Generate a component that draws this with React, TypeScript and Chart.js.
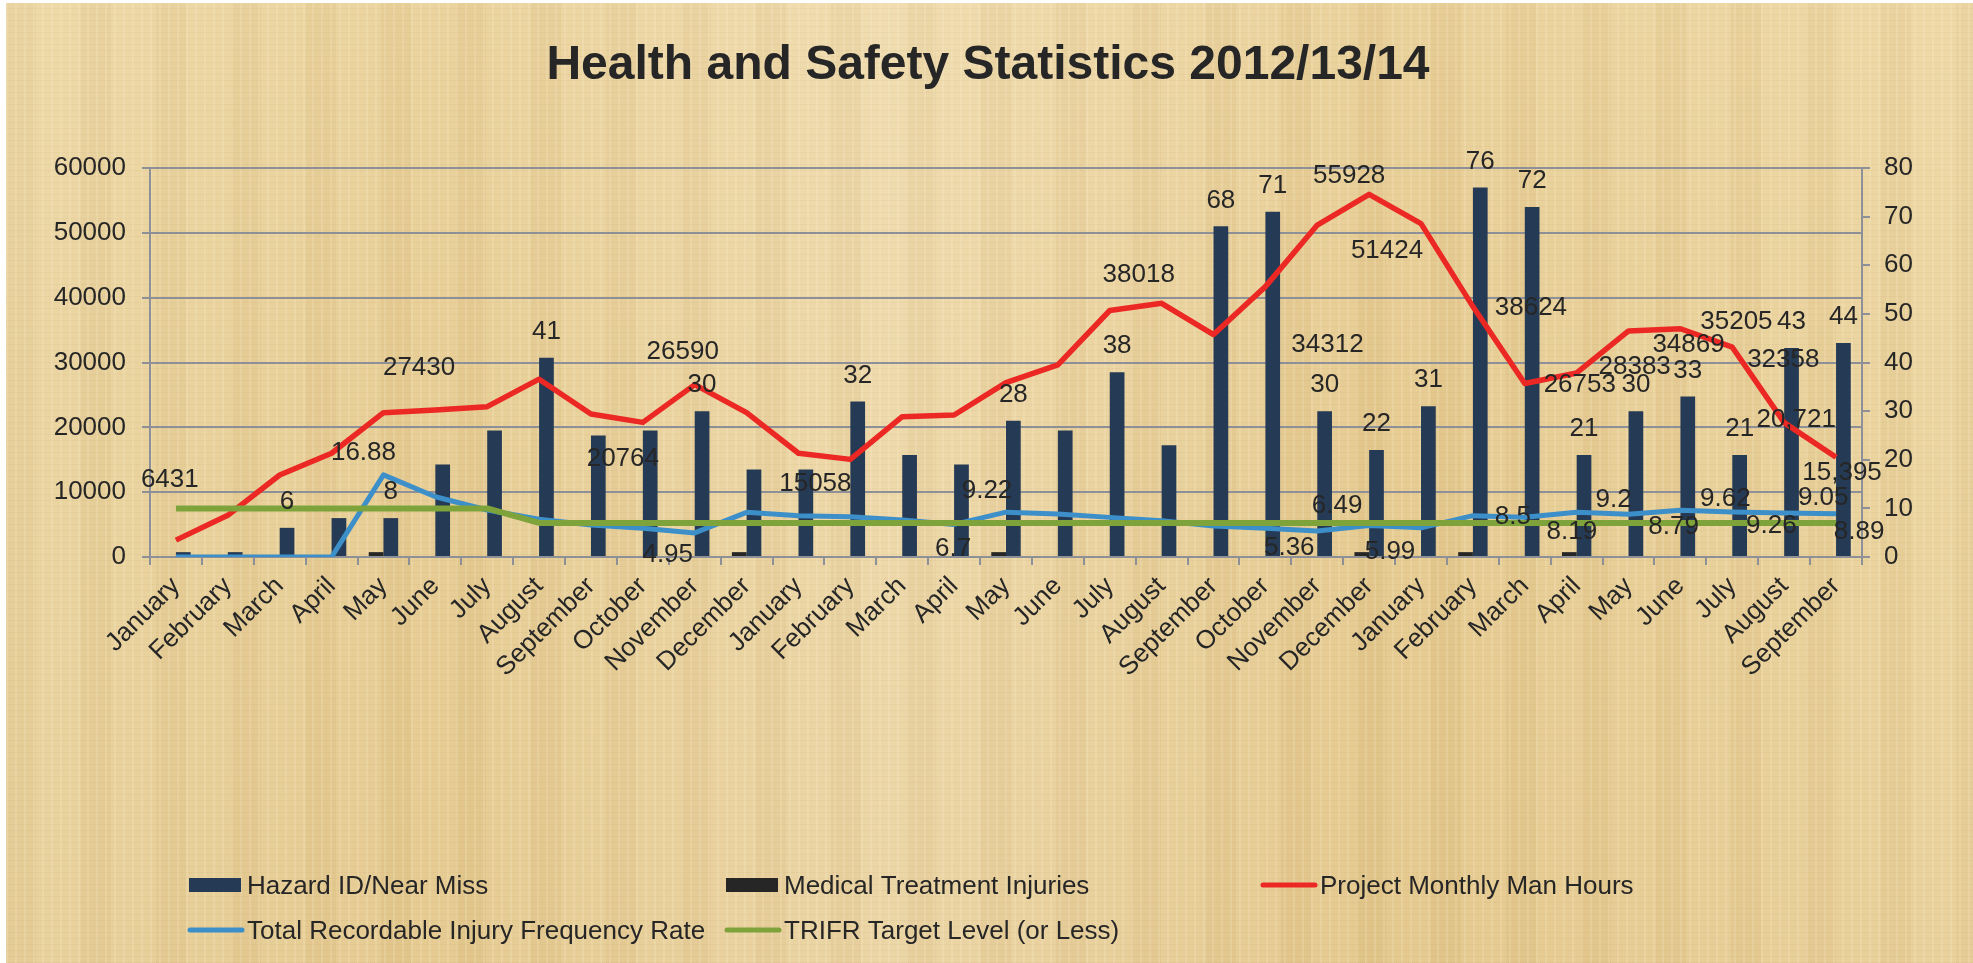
import React, { useEffect, useRef } from "react";
import { Chart, registerables } from "chart.js";

Chart.register(...registerables);

const FONT = "'Liberation Sans', Arial, Helvetica, sans-serif";
const TEXT = "#262626";

const months = [
  "January", "February", "March", "April", "May", "June", "July", "August", "September", "October", "November", "December",
  "January", "February", "March", "April", "May", "June", "July", "August", "September", "October", "November", "December",
  "January", "February", "March", "April", "May", "June", "July", "August", "September",
];

const hazardNearMiss = [1, 1, 6, 8, 8, 19, 26, 41, 25, 26, 30, 18, 18, 32, 21, 19, 28, 26, 38, 23, 68, 71, 30, 22, 31, 76, 72, 21, 30, 33, 21, 43, 44];

const medicalTreatment = [null, null, null, null, 1, null, null, null, null, null, null, 1, null, null, null, null, 1, null, null, null, null, null, null, 1, null, 1, null, 1, null, null, null, null, null];

const manHours = [2600, 6431, 12650, 16000, 22260, 22680, 23190, 27430, 22060, 20764, 26590, 22260, 16000, 15058, 21650, 21900, 26890, 29620, 38018, 39130, 34312, 41700, 51200, 55928, 51424, 38624, 26753, 28383, 34869, 35205, 32358, 20721, 15395];

const trifr = [0, 0, 0, 0, 16.88, 12.4, 9.67, 7.75, 6.58, 5.9, 4.95, 9.19, 8.5, 8.3, 7.6, 6.7, 9.22, 8.84, 8.15, 7.47, 6.38, 5.9, 5.36, 6.49, 5.99, 8.5, 8.19, 9.2, 8.79, 9.62, 9.26, 9.05, 8.89];

const trifrTarget = [10, 10, 10, 10, 10, 10, 10, 7, 7, 7, 7, 7, 7, 7, 7, 7, 7, 7, 7, 7, 7, 7, 7, 7, 7, 7, 7, 7, 7, 7, 7, 7, 7];

const hazardLabels = [null, null, "6", null, "8", null, null, "41", null, null, "30", null, null, "32", null, null, "28", null, "38", null, "68", "71", "30", "22", "31", "76", "72", "21", "30", "33", "21", "43", "44"];

const manHoursLabels = [null, "6431", null, null, null, null, null, "27430", null, "20764", "26590", null, null, "15058", null, null, null, null, "38018", null, "34312", null, null, "55928", "51424", "38624", "26753", "28383", "34869", "35205", "32358", "20,721", "15,395"];

const trifrLabels = [null, null, null, null, "16.88", null, null, null, null, null, "4.95", null, null, null, null, "6.7", "9.22", null, null, null, null, null, "5.36", "6.49", "5.99", "8.5", "8.19", "9.2", "8.79", "9.62", "9.26", "9.05", "8.89"];

// label placement shifts (style only), aligned with the label arrays
const manHoursLabelShift: ([number, number] | null)[] = [null, [-58, -35], null, null, null, null, null, [-120, -11], null, [-20, 36], [-12, -33], null, null, [-35, 24], null, null, null, null, [29, -36], null, [114, 10], null, null, [-20, -19], [-34, 27], [58, 1], [55, 1], [58, -6], [60, 14], [56, -7], [51, 13], [12, -3], [6, 16]];

const trifrLabelShift: ([number, number] | null)[] = [null, null, null, null, [-20, -22], null, null, null, null, null, [-27, 22], null, null, null, null, [-1, 24], [-19, -21], null, null, null, null, null, [-28, 17], [-32, -20], [-31, 24], [40, 1], [47, 15], [37, -12], [45, 13], [45, -11], [39, 14], [39, -15], [23, 18]];

const COLORS = {
  hazard: "#253a54",
  medical: "#262626",
  red: "#ec2824",
  blue: "#3d8fc9",
  green: "#7ea33b",
  grid: "#8d9097",
};

const legendItems = [
  { text: "Hazard ID/Near Miss", kind: "box", color: COLORS.hazard, col: 0, row: 0 },
  { text: "Medical Treatment Injuries", kind: "box", color: COLORS.medical, col: 1, row: 0 },
  { text: "Project Monthly Man Hours", kind: "line", color: COLORS.red, col: 2, row: 0 },
  { text: "Total Recordable Injury Frequency Rate", kind: "line", color: COLORS.blue, col: 0, row: 1 },
  { text: "TRIFR Target Level (or Less)", kind: "line", color: COLORS.green, col: 1, row: 1 },
];

const W = 1973;
const H = 963;
const PLOT_LEFT = 150;
const PLOT_RIGHT = 1862;
const PLOT_TOP = 168;
const PLOT_BOTTOM = 557;

const overlayPlugin = {
  id: "overlay",
  afterDatasetsDraw(chart: any) {
    const ctx = chart.ctx;
    ctx.save();
    ctx.fillStyle = TEXT;
    ctx.font = `26px ${FONT}`;
    ctx.textAlign = "center";
    ctx.textBaseline = "middle";
    const hz = chart.getDatasetMeta(0);
    hazardLabels.forEach((t, i) => {
      if (!t) return;
      const el = hz.data[i];
      ctx.fillText(t, el.x, el.y - 26);
    });
    const mh = chart.getDatasetMeta(2);
    manHoursLabels.forEach((t, i) => {
      if (!t) return;
      const el = mh.data[i];
      const s = manHoursLabelShift[i] || [0, -20];
      ctx.fillText(t, el.x + s[0], el.y + s[1]);
    });
    const tr = chart.getDatasetMeta(3);
    trifrLabels.forEach((t, i) => {
      if (!t) return;
      const el = tr.data[i];
      const s = trifrLabelShift[i] || [0, -20];
      ctx.fillText(t, el.x + s[0], el.y + s[1]);
    });
    ctx.restore();
  },
  afterDraw(chart: any) {
    const ctx = chart.ctx;
    ctx.save();
    // title
    ctx.fillStyle = TEXT;
    ctx.font = `bold 48px ${FONT}`;
    ctx.textAlign = "center";
    ctx.textBaseline = "alphabetic";
    ctx.fillText("Health and Safety Statistics 2012/13/14", 988, 79);
    // legend
    const colX = [189, 726, 1262];
    const rowY = [885, 930];
    ctx.font = `26px ${FONT}`;
    ctx.textAlign = "left";
    legendItems.forEach((it) => {
      const x = colX[it.col];
      const y = rowY[it.row];
      if (it.kind === "box") {
        ctx.fillStyle = it.color;
        ctx.fillRect(x, y - 7, 52, 14);
      } else {
        ctx.strokeStyle = it.color;
        ctx.lineWidth = 5;
        ctx.lineCap = "round";
        ctx.beginPath();
        ctx.moveTo(x + 1, y);
        ctx.lineTo(x + 53, y);
        ctx.stroke();
      }
      ctx.fillStyle = TEXT;
      ctx.textBaseline = "alphabetic";
      ctx.fillText(it.text, x + 58, y + 8.5);
    });
    ctx.restore();
  },
};

export default function App() {
  const ref = useRef<HTMLCanvasElement>(null);

  useEffect(() => {
    if (!ref.current) return;
    const chart = new Chart(ref.current, {
      type: "bar",
      data: {
        labels: months,
        datasets: [
          {
            type: "bar",
            label: "Hazard ID/Near Miss",
            data: hazardNearMiss,
            backgroundColor: COLORS.hazard,
            yAxisID: "yR",
            order: 5,
            categoryPercentage: 0.567,
            barPercentage: 1,
          },
          {
            type: "bar",
            label: "Medical Treatment Injuries",
            data: medicalTreatment as any,
            backgroundColor: COLORS.medical,
            yAxisID: "yR",
            order: 4,
            categoryPercentage: 0.567,
            barPercentage: 1,
          },
          {
            type: "line",
            label: "Project Monthly Man Hours",
            data: manHours,
            borderColor: COLORS.red,
            backgroundColor: COLORS.red,
            borderWidth: 5.5,
            pointRadius: 0,
            tension: 0,
            yAxisID: "yL",
            order: 3,
            borderJoinStyle: "round",
          },
          {
            type: "line",
            label: "Total Recordable Injury Frequency Rate",
            data: trifr,
            borderColor: COLORS.blue,
            backgroundColor: COLORS.blue,
            borderWidth: 5,
            pointRadius: 0,
            tension: 0,
            yAxisID: "yR",
            order: 2,
            borderJoinStyle: "round",
          },
          {
            type: "line",
            label: "TRIFR Target Level (or Less)",
            data: trifrTarget,
            borderColor: COLORS.green,
            backgroundColor: COLORS.green,
            borderWidth: 6,
            pointRadius: 0,
            tension: 0,
            yAxisID: "yR",
            order: 1,
            borderJoinStyle: "round",
          },
        ],
      },
      options: {
        responsive: false,
        animation: false,
        devicePixelRatio: 1,
        layout: { padding: { top: PLOT_TOP, left: 0, right: 0, bottom: 0 } },
        plugins: {
          legend: { display: false },
          title: { display: false },
          tooltip: { enabled: false },
        },
        scales: {
          x: {
            offset: true,
            grid: {
              display: true,
              offset: true,
              drawOnChartArea: false,
              drawTicks: true,
              tickLength: 8,
              color: COLORS.grid,
              lineWidth: 2,
            },
            border: { display: true, color: COLORS.grid, width: 2 },
            ticks: {
              autoSkip: false,
              maxRotation: 45,
              minRotation: 45,
              padding: 6,
              color: TEXT,
              font: { family: FONT, size: 26 },
            },
            afterFit(scale: any) {
              scale.height = H - PLOT_BOTTOM;
            },
          },
          yL: {
            type: "linear",
            position: "left",
            min: 0,
            max: 60000,
            ticks: {
              stepSize: 10000,
              padding: 16,
              color: TEXT,
              font: { family: FONT, size: 26 },
              callback: (v: any) => String(v),
            },
            grid: {
              color: COLORS.grid,
              lineWidth: 2,
              drawTicks: true,
              tickLength: 8,
            },
            border: { display: true, color: COLORS.grid, width: 2 },
            afterFit(scale: any) {
              scale.width = PLOT_LEFT;
            },
          },
          yR: {
            type: "linear",
            position: "right",
            min: 0,
            max: 80,
            ticks: {
              stepSize: 10,
              padding: 14,
              color: TEXT,
              font: { family: FONT, size: 26 },
              callback: (v: any) => String(v),
            },
            grid: {
              drawOnChartArea: false,
              color: COLORS.grid,
              lineWidth: 2,
              drawTicks: true,
              tickLength: 8,
            },
            border: { display: true, color: COLORS.grid, width: 2 },
            afterFit(scale: any) {
              scale.width = W - PLOT_RIGHT;
            },
          },
        },
      } as any,
      plugins: [overlayPlugin],
    });
    return () => chart.destroy();
  }, []);

  const parchment: React.CSSProperties = {
    position: "absolute",
    left: 6,
    top: 3,
    right: 0,
    bottom: 0,
    backgroundColor: "#e9d29d",
    backgroundImage: [
      "repeating-linear-gradient(90deg, rgba(255,246,218,0.16) 0px, rgba(255,246,218,0.16) 2px, rgba(0,0,0,0) 2px, rgba(0,0,0,0) 9px)",
      "repeating-linear-gradient(0deg, rgba(150,112,45,0.06) 0px, rgba(150,112,45,0.06) 1px, rgba(0,0,0,0) 1px, rgba(0,0,0,0) 6px)",
      "repeating-linear-gradient(90deg, rgba(170,130,60,0.05) 0px, rgba(170,130,60,0.05) 30px, rgba(255,240,200,0.06) 30px, rgba(255,240,200,0.06) 75px)",
      "linear-gradient(180deg, rgba(255,240,205,0.15), rgba(0,0,0,0) 40%, rgba(200,160,90,0.08) 100%)",
      "linear-gradient(90deg, #ead4a1 0%, #e6cc93 22%, #edd8aa 45%, #e5ca90 70%, #ebd4a0 100%)",
    ].join(","),
  };

  return (
    <div style={{ position: "fixed", left: 0, top: 0, width: W, height: H, background: "#ffffff", overflow: "hidden" }}>
      <div style={parchment} />
      <canvas ref={ref} width={W} height={H} style={{ position: "absolute", left: 0, top: 0, width: W, height: H }} />
    </div>
  );
}
